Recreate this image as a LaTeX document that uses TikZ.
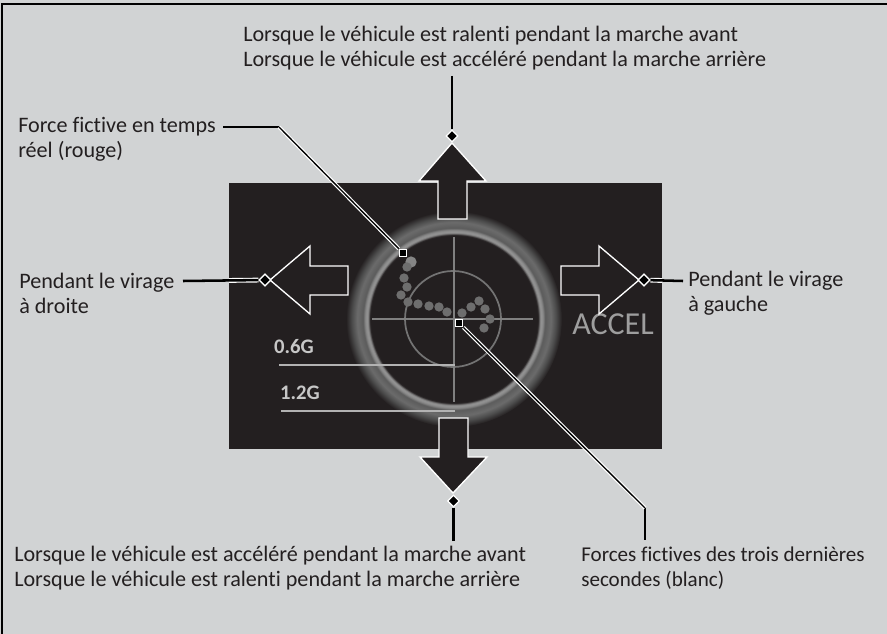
\documentclass[tikz,border=0pt]{standalone}
\usepackage{fontspec}
\setmainfont[Ligatures=NoCommon]{Carlito}
\usetikzlibrary{positioning, shapes.geometric}

\definecolor{panelgray}{HTML}{D1D3D4}
\definecolor{screenblack}{HTML}{231F20}
\definecolor{dotgray}{HTML}{6E6E6E}

% glow of the G-meter ring
\pgfdeclareradialshading{ringglow}{\pgfpoint{0bp}{0bp}}{
    color(0bp)=(screenblack);
    color(19.4bp)=(screenblack);
    color(20.0bp)=(black!42);
    color(20.5bp)=(black!45);
    color(21.1bp)=(black!64);
    color(22.4bp)=(black!58);
    color(23.6bp)=(black!70);
    color(25bp)=(screenblack)
}

\begin{document}
\begin{tikzpicture}[x=0.75pt, y=-0.75pt]
    % Styles
    \tikzset{
        label_text/.style={font=\fontsize{16.6}{18.6}\selectfont, align=left, anchor=west, inner sep=0pt, text=screenblack},
        screen_text/.style={font=\fontsize{15.5}{17}\selectfont\bfseries, text=black!22, inner sep=0pt},
        big_arrow/.style={draw=white, line width=1pt, fill=screenblack, line join=miter},
        leader/.style={draw=black, line width=1.9pt},
        leader_halo/.style={draw=white, line width=3.6pt},
        leader_diag/.style={draw=black, line width=1pt, preaction={draw=white, line width=2.8pt}},
        tip_diamond/.style={diamond, draw=white, fill=black, line width=0.9pt, inner sep=0pt, minimum size=9pt},
        tip_square/.style={rectangle, draw=white, fill=black, line width=1.1pt, inner sep=0pt, minimum size=5.5pt},
        scale_line/.style={draw=black!30, line width=1pt},
        cross_line/.style={draw=black!50, line width=1.5pt},
        force_dot/.style={circle, fill=dotgray, inner sep=0pt, minimum size=7pt}
    }

    % --- Panel ---
    \useasboundingbox (0,0) rectangle (887,634);
    \fill[panelgray] (0,0) rectangle (887,634);
    \draw[black, line width=0.9pt] (2,700) -- (2,4) -- (887,4);
    \fill[screenblack] (229,183) rectangle (662,449);

    % --- Meter ---
    \shade[shading=ringglow] (454,319) circle (108);
    \draw[black!55, line width=1.3pt] (453,319) circle (48);
    \draw[cross_line] (372,319) -- (533,319);
    \draw[cross_line] (454,237) -- (454,402);
    \draw[scale_line] (279,365) -- (455,365);
    \draw[scale_line] (281,411) -- (455,411);

    \node[screen_text] (g_low) at (294,347) {0.6G};
    \node[screen_text] (g_high) at (300,393) {1.2G};
    \node[screen_text, font=\fontsize{24}{26}\selectfont, text=black!38] (accel) at (613,324) {ACCEL};

    % Force dots
    \node[force_dot, minimum size=8.5pt, fill=black!48] (dot_now) at (411,262) {};
    \foreach \px/\py in {407/267, 404/278, 407/287, 401/295, 408/302, 418/304, 429/306, 439/307,
                         447/312, 462/313, 471/307, 479/301, 485/309, 490/319, 484/328}
        \node[force_dot] at (\px,\py) {};

    % --- Arrows ---
    \draw[big_arrow] (452,143) -- (486,181) -- (467,181) -- (467,219) -- (438,219) -- (438,181) -- (419,181) -- cycle;
    \draw[big_arrow] (453,493) -- (487,457) -- (468,457) -- (468,418) -- (439,418) -- (439,457) -- (420,457) -- cycle;
    \draw[big_arrow] (270,280) -- (310,246) -- (310,266) -- (348,266) -- (348,295) -- (310,295) -- (310,314) -- cycle;
    \draw[big_arrow] (639,280) -- (599,246) -- (599,266) -- (561,266) -- (561,295) -- (599,295) -- (599,314) -- cycle;

    % --- Labels ---
    \node[label_text] (brake_fwd) at (243,48) {Lorsque le véhicule est ralenti pendant la marche avant\\Lorsque le véhicule est accéléré pendant la marche arrière};
    \node[label_text] (accel_fwd) at (14,568) {Lorsque le véhicule est accéléré pendant la marche avant\\Lorsque le véhicule est ralenti pendant la marche arrière};
    \node[label_text] (live_force) at (18,139) {Force fictive en temps\\réel (rouge)};
    \node[label_text] (turn_right) at (19,293) {Pendant le virage\\à droite};
    \node[label_text] (turn_left) at (688,293) {Pendant le virage\\à gauche};
    \node[label_text, font=\fontsize{15.8}{18.6}\selectfont] (past_force) at (581,568) {Forces fictives des trois dernières\\secondes (blanc)};

    % --- Connections ---
    \node[tip_diamond] (tip_up) at (452,136) {};
    \node[tip_diamond] (tip_down) at (453.5,501) {};
    \node[tip_diamond] (tip_left) at (265,280) {};
    \node[tip_diamond] (tip_right) at (644,280) {};
    \node[tip_square] (tip_live) at (403,253) {};
    \node[tip_square] (tip_past) at (459,323) {};

    \coordinate (up_end) at (452,76);
    \coordinate (down_end) at (453.5,541);
    \coordinate (left_end) at (183,281);
    \coordinate (right_end) at (683,281);
    \coordinate (live_start) at (223,127);
    \coordinate (live_bend) at (279,127);
    \coordinate (past_bend) at (645,508);
    \coordinate (past_end) at (645,540);

    \draw[leader] (up_end) -- (tip_up);
    \draw[leader] (down_end) -- (tip_down);
    \begin{scope}
        \clip (229,183) rectangle (662,449);
        \draw[leader_halo] (left_end) -- (tip_left);
        \draw[leader_halo] (right_end) -- (tip_right);
    \end{scope}
    \draw[leader] (left_end) -- (tip_left);
    \draw[leader] (right_end) -- (tip_right);
    \draw[leader] (live_start) -- (live_bend);
    \draw[leader] (past_bend) -- (past_end);
    \draw[leader_diag] (live_bend) -- (tip_live);
    \draw[leader_diag] (tip_past) -- (past_bend);
    \node[tip_diamond] at (tip_left) {};
    \node[tip_diamond] at (tip_right) {};
    \node[tip_square] at (tip_live) {};
    \node[tip_square] at (tip_past) {};

\end{tikzpicture}
\end{document}
